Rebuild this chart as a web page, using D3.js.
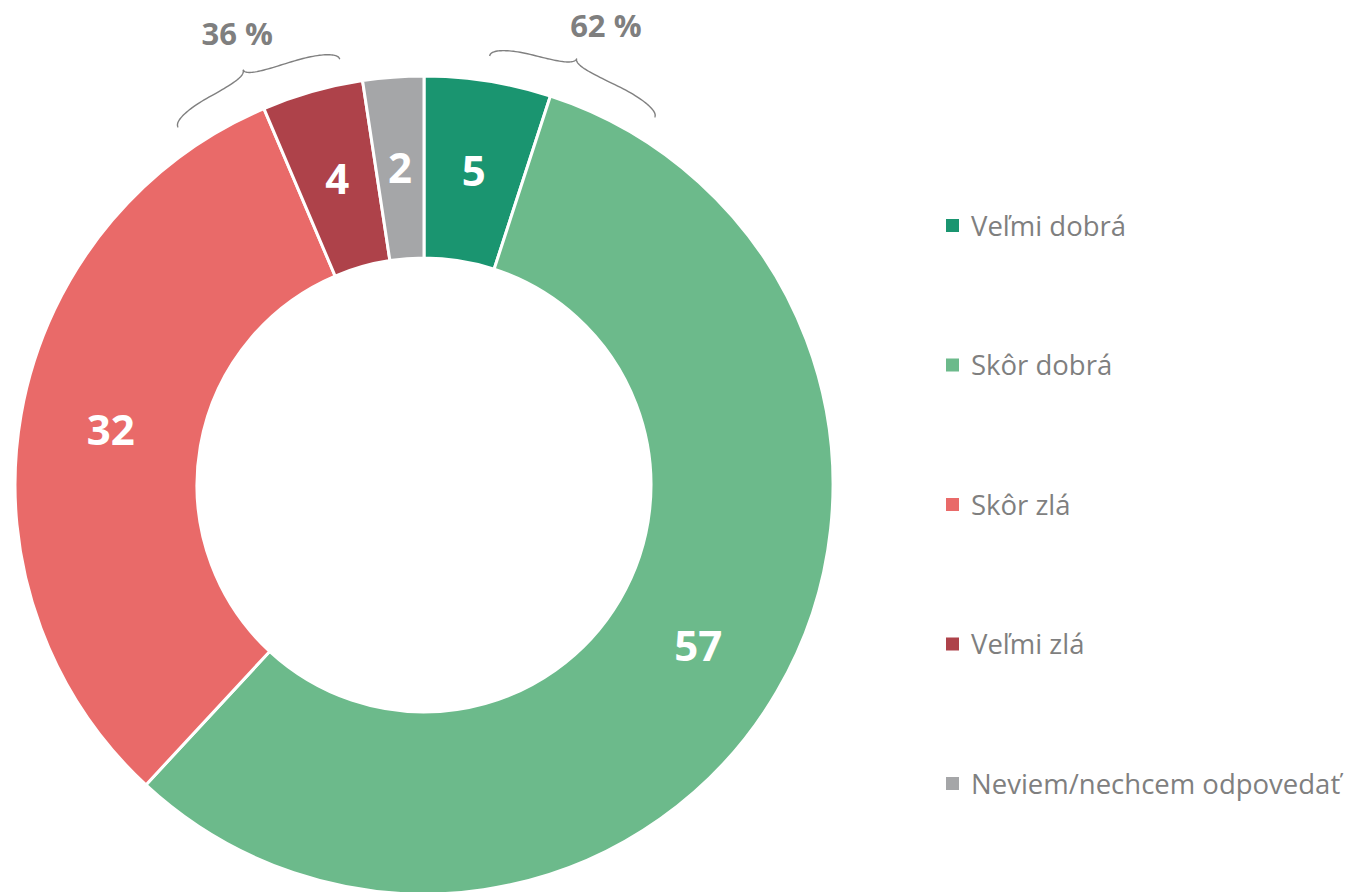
<!DOCTYPE html>
<html>
<head>
<meta charset="utf-8">
<script src="https://cdn.jsdelivr.net/npm/d3@7"></script>
<style>
  body { margin: 0; background: #fff; }
  svg { display: block; font-family: "Open Sans", sans-serif; }
</style>
</head>
<body>
<svg width="1353" height="892"></svg>
<script>
// data
var categories = ["Veľmi dobrá", "Skôr dobrá", "Skôr zlá", "Veľmi zlá", "Neviem/nechcem odpovedať"];
var values = [5.0, 56.9, 31.7, 4.0, 2.4];
var colors = ["#1a9570", "#6cba8b", "#e96a69", "#ae424a", "#a5a6a8"];
// grouped totals shown with braces (indexes into categories)
var groups = [[2, 3], [0, 1]];
// brace placement (degrees from 12 o'clock, clockwise)
var braces = [
  {a1: -34.5, a2: -11.2, tip: 0.47, labelAngle: -22.5, labelR: 488},
  {a1: 8.7, a2: 32.1, tip: 0.47, labelAngle: 21.6, labelR: 494}
];

var svg = d3.select("svg"),
    cx = 424, cy = 485,
    outerR = 409, innerR = 227,
    g = svg.append("g").attr("transform", "translate(" + cx + "," + cy + ")");

var pie = d3.pie().sort(null).value(function(d) { return d; });
var arc = d3.arc().innerRadius(innerR).outerRadius(outerR);
var arcs = pie(values);

g.selectAll("path.slice")
    .data(arcs)
  .enter().append("path")
    .attr("class", "slice")
    .attr("d", arc)
    .attr("fill", function(d, i) { return colors[i]; })
    .attr("stroke", "#fff")
    .attr("stroke-width", 3);

g.selectAll("text.val")
    .data(arcs)
  .enter().append("text")
    .attr("class", "val")
    .attr("transform", function(d) { return "translate(" + arc.centroid(d) + ")"; })
    .attr("dy", "0.36em")
    .attr("text-anchor", "middle")
    .attr("fill", "#fff")
    .attr("font-weight", "bold")
    .attr("font-size", 42)
    .text(function(d) { return Math.round(d.data); });

// curly braces, drawn in polar space
var rad = Math.PI / 180, braceR = 434, braceW = 19;

function bracePoints(b) {
  var L = (b.a2 - b.a1) * rad, T = b.tip * L, w = braceW, pts = [];
  function quad(p0, c, p1) {
    for (var k = 0; k <= 30; k++) {
      var t = k / 30, u = 1 - t;
      pts.push([u*u*p0[0] + 2*u*t*c[0] + t*t*p1[0], u*u*p0[1] + 2*u*t*c[1] + t*t*p1[1]]);
    }
  }
  quad([0, 0], [0, w/2], [T/2, w/2]);
  quad([T/2, w/2], [T, w/2], [T, w]);
  quad([T, w], [T, w/2], [(T+L)/2, w/2]);
  quad([(T+L)/2, w/2], [L, w/2], [L, 0]);
  return pts.map(function(p) {
    var a = b.a1 * rad + p[0], r = braceR + p[1];
    return [r * Math.sin(a), -r * Math.cos(a)];
  });
}

var line = d3.line();

g.selectAll("path.brace")
    .data(braces)
  .enter().append("path")
    .attr("class", "brace")
    .attr("d", function(b) { return line(bracePoints(b)); })
    .attr("fill", "none")
    .attr("stroke", "#808080")
    .attr("stroke-width", 1.4);

g.selectAll("text.group")
    .data(braces)
  .enter().append("text")
    .attr("class", "group")
    .attr("x", function(b) { return b.labelR * Math.sin(b.labelAngle * rad); })
    .attr("y", function(b) { return -b.labelR * Math.cos(b.labelAngle * rad); })
    .attr("dy", "0.36em")
    .attr("text-anchor", "middle")
    .attr("fill", "#7f7f7f")
    .attr("font-weight", "bold")
    .attr("font-size", 31)
    .text(function(b, i) { return Math.round(d3.sum(groups[i], function(k) { return values[k]; })) + " %"; });

// legend
var legendY = d3.scalePoint().domain(categories).range([226, 784]);

var legend = svg.append("g").selectAll("g")
    .data(categories)
  .enter().append("g")
    .attr("transform", function(d) { return "translate(946," + legendY(d) + ")"; });

legend.append("rect")
    .attr("x", 0)
    .attr("y", -7)
    .attr("width", 13)
    .attr("height", 13)
    .attr("fill", function(d, i) { return colors[i]; });

legend.append("text")
    .attr("x", 25)
    .attr("dy", "0.36em")
    .attr("fill", "#7f7f7f")
    .attr("font-size", 27.5)
    .text(function(d) { return d; });
</script>
</body>
</html>
